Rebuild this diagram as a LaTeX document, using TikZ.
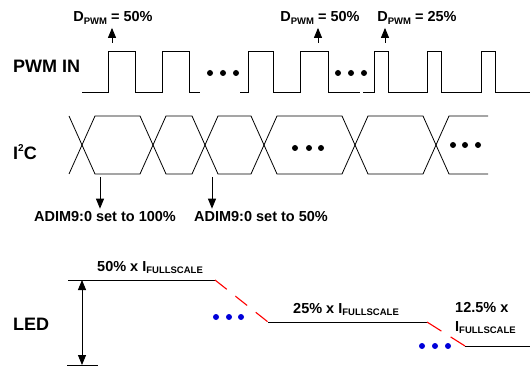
\documentclass[tikz,border=0pt]{standalone}
\usepackage{fontspec}
\setmainfont{Liberation Sans}
\usetikzlibrary{arrows.meta}

\newcommand{\lsub}[1]{\raisebox{-0.35ex}{\fontsize{9.5}{9.5}\selectfont #1}}

\tikzset{
  wave/.style={line width=0.8pt},
  mark arrow/.style={line width=0.9pt,-{Triangle[width=8pt,length=10pt]}},
  dotmark/.style={fill=black},
  bluedot/.style={fill=blue!85!black},
  ramp/.style={red,line width=1.1pt,dash pattern=on 15pt off 11pt},
  sig/.style={font=\fontsize{18}{20}\selectfont\bfseries,anchor=base west,inner sep=0pt},
  lbl/.style={font=\fontsize{14.5}{16}\selectfont\bfseries,anchor=base,inner sep=0pt},
  lvl/.style={font=\fontsize{14.5}{16}\selectfont\bfseries,anchor=base west,inner sep=0pt}
}

\begin{document}
\begin{tikzpicture}[x=1pt,y=-1pt]
        \useasboundingbox (0,0) rectangle (530,366);

        % signal names
        \node[sig] (pwmin) at (13,73) {PWM IN};
        \node[sig] (itwoc) at (13,160) {I\raisebox{0.9ex}{\fontsize{10}{10}\selectfont 2}C};
        \node[sig] (led) at (13,330) {LED};

        % PWM input
        \draw[wave] (82,92)--(108,92)--(108,51)--(135,51)--(135,92)--(162,92)--(162,51)--(189,51)--(189,92)--(200,92);
        \draw[wave] (240,92)--(248,92)--(248,51)--(273,51)--(273,92)--(300,92)--(300,51)--(328,51)--(328,92)--(360,92);
        \draw[wave] (363,92)--(374,92)--(374,51)--(388,51)--(388,92)--(427,92)--(427,51)--(441,51)--(441,92)--(481,92)--(481,51)--(495,51)--(495,92)--(530,92);
        \fill[dotmark] (210,73) circle (3) (223,73) circle (3) (236,73) circle (3);
        \fill[dotmark] (338,73) circle (3) (351,73) circle (3) (364,73) circle (3);

        % duty cycle labels
        \node[lbl] (dpwmA) at (113,22) {D\lsub{PWM} = 50\%};
        \node[lbl] (dpwmB) at (320,22) {D\lsub{PWM} = 50\%};
        \node[lbl] (dpwmC) at (417,22) {D\lsub{PWM} = 25\%};
        \coordinate (pA) at (112,43);
        \coordinate (pB) at (318,43);
        \coordinate (pC) at (385,43);
        \draw[mark arrow] (pA) -- ([yshift=-3pt]pA |- dpwmA.south);
        \draw[mark arrow] (pB) -- ([yshift=-3pt]pB |- dpwmB.south);
        \draw[mark arrow] (pC) -- ([yshift=-3pt]pC |- dpwmC.south);

        % I2C bus
        \draw[wave] (69,116)--(95,174)--(140,174)--(166,116)--(192,116)--(218,174)--(251,174)--(277,116)--(342,116)--(368,174)--(423,174)--(449,116)--(488,116);
        \draw[wave] (69,174)--(95,116)--(140,116)--(166,174)--(192,174)--(218,116)--(251,116)--(277,174)--(342,174)--(368,116)--(423,116)--(449,174)--(488,174);
        \fill[dotmark] (295,148) circle (3) (309,148) circle (3) (321,148) circle (3);
        \fill[dotmark] (453,145) circle (3) (465,145) circle (3) (478,145) circle (3);

        % register writes
        \node[lbl] (adimA) at (105,222) {ADIM9:0 set to 100\%};
        \node[lbl] (adimB) at (261,222) {ADIM9:0 set to 50\%};
        \coordinate (wA) at (100,177);
        \coordinate (wB) at (212,177);
        \draw[mark arrow] (wA) -- ([yshift=3pt]wA |- adimA.north);
        \draw[mark arrow] (wB) -- ([yshift=3pt]wB |- adimB.north);

        % LED current
        \draw[wave] (68,280)--(215,280);
        \draw[ramp] (215,280)--(268,322);
        \draw[wave] (268,322)--(427,322);
        \draw[ramp,dash pattern=on 17pt off 11pt] (427,322)--(465,346);
        \draw[wave] (465,346)--(530,346);
        \fill[bluedot] (216,317) circle (3) (229,317) circle (3) (241,317) circle (3);
        \fill[bluedot] (422,346) circle (3) (435,346) circle (3) (448,346) circle (3);

        \node[lvl] (ledA) at (97,271) {50\% x I\lsub{FULLSCALE}};
        \node[lvl] (ledB) at (293,313) {25\% x I\lsub{FULLSCALE}};
        \node[lvl] (ledC) at (455,312) {12.5\% x};
        \node[lvl] (ledD) at (455,331) {I\lsub{FULLSCALE}};

        \coordinate (ledtop) at (82,280);
        \coordinate (ledbot) at (82,365);
        \draw[wave] (67,365)--(98,365);
        \draw[mark arrow,{Triangle[width=8pt,length=10pt]}-{Triangle[width=8pt,length=10pt]}] (ledtop) -- (ledbot);
\end{tikzpicture}
\end{document}
